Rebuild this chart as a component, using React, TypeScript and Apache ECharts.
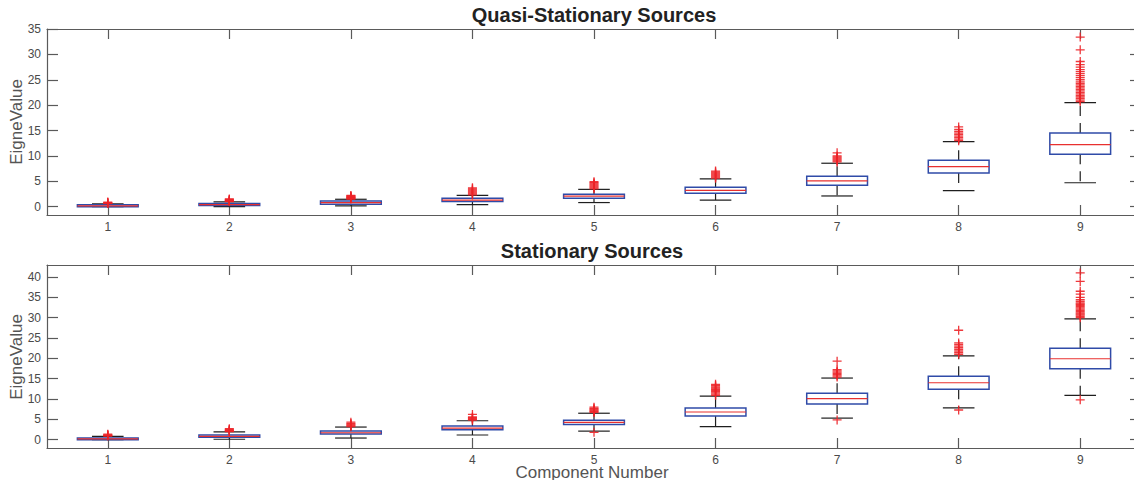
import React, { useEffect, useRef } from "react";
import * as echarts from "echarts";

const categories = [1, 2, 3, 4, 5, 6, 7, 8, 9];

// Quasi-Stationary Sources (top)
const quasiLo = [0.0, 0.0, 0.15, 0.4, 0.8, 1.3, 2.1, 3.15, 4.7];
const quasiQ1 = [0.0, 0.2, 0.45, 1.0, 1.65, 2.64, 4.2, 6.65, 10.3];
const quasiMed = [0.15, 0.4, 0.8, 1.3, 2.05, 3.2, 5.07, 7.9, 12.2];
const quasiQ3 = [0.35, 0.6, 1.1, 1.65, 2.45, 3.8, 6.0, 9.15, 14.5];
const quasiHi = [0.55, 0.95, 1.45, 2.2, 3.4, 5.45, 8.55, 12.8, 20.5];
const quasiOutliers = [
  [0.6, 0.65, 0.7, 0.8, 0.9],
  [1.0, 1.05, 1.1, 1.2, 1.3, 1.4, 1.5],
  [1.5, 1.6, 1.7, 1.8, 1.9, 2.0, 2.1, 2.2],
  [2.3, 2.5, 2.7, 2.9, 3.1, 3.3, 3.5, 3.7],
  [3.5, 3.7, 3.9, 4.1, 4.3, 4.5, 4.7, 4.9],
  [5.6, 5.8, 6.0, 6.2, 6.4, 6.6, 6.8, 7.0],
  [8.8, 9.0, 9.2, 9.4, 9.6, 9.8, 10.0, 10.6],
  [13.0, 13.3, 13.6, 13.9, 14.2, 14.5, 14.8, 15.2, 15.7],
  [20.7, 21.0, 21.3, 21.6, 21.9, 22.2, 22.5, 22.8, 23.1, 23.4, 23.7, 24.0, 24.3, 24.6, 25.0, 25.4, 25.8, 26.2, 26.6, 27.0, 27.5, 28.0, 28.6, 30.9, 33.4],
];

// Stationary Sources (bottom)
const statLo = [0.0, 0.1, 0.4, 1.15, 2.1, 3.2, 5.3, 7.8, 10.9];
const statQ1 = [0.0, 0.57, 1.4, 2.45, 3.7, 5.8, 8.8, 12.4, 17.45];
const statMed = [0.17, 0.82, 1.7, 2.85, 4.25, 6.8, 10.1, 14.0, 19.9];
const statQ3 = [0.4, 1.15, 2.1, 3.35, 4.8, 7.8, 11.4, 15.6, 22.45];
const statHi = [0.8, 1.9, 3.1, 4.65, 6.5, 10.7, 15.15, 20.6, 29.7];
const statOutliers = [
  [0.9, 1.0, 1.1, 1.2, 1.35],
  [2.0, 2.1, 2.2, 2.35, 2.5, 2.7],
  [3.2, 3.4, 3.6, 3.8, 4.0, 4.3],
  [4.8, 5.0, 5.2, 5.4, 5.6, 6.2],
  [1.8, 6.7, 6.9, 7.1, 7.3, 7.5, 7.7, 8.0],
  [10.9, 11.2, 11.5, 11.8, 12.1, 12.4, 12.7, 13.0, 13.3, 13.6],
  [4.85, 15.4, 15.7, 16.0, 16.3, 16.6, 16.9, 17.2, 19.3],
  [7.3, 21.0, 21.4, 21.8, 22.2, 22.6, 23.0, 23.4, 23.8, 26.9],
  [9.8, 30.0, 30.3, 30.6, 30.9, 31.2, 31.5, 31.8, 32.1, 32.4, 32.7, 33.0, 33.3, 33.6, 34.0, 34.4, 35.0, 35.8, 36.5, 38.9, 41.0],
];

const yTicksTop = [0, 5, 10, 15, 20, 25, 30, 35];
const yTicksBottom = [0, 5, 10, 15, 20, 25, 30, 35, 40];
const titleTop = "Quasi-Stationary Sources";
const titleBottom = "Stationary Sources";
const yName = "EigneValue";
const xName = "Component Number";

const FONT = "'Liberation Sans', Arial, Helvetica, sans-serif";
const AXIS_COLOR = "#5a5a5a";
const LABEL_COLOR = "#4a4a4a";

function boxData(lo: number[], q1: number[], med: number[], q3: number[], hi: number[]) {
  return categories.map((c, i) => [c, lo[i], q1[i], med[i], q3[i], hi[i]]);
}
function outlierData(out: number[][]) {
  const res: number[][] = [];
  out.forEach((arr, i) => arr.forEach((v) => res.push([categories[i], v])));
  return res;
}

const renderBox = (params: any, api: any) => {
  const x = api.value(0);
  const pLo = api.coord([x, api.value(1)]);
  const pQ1 = api.coord([x, api.value(2)]);
  const pMed = api.coord([x, api.value(3)]);
  const pQ3 = api.coord([x, api.value(4)]);
  const pHi = api.coord([x, api.value(5)]);
  const unit = api.size([1, 0])[0];
  const bw = unit * 0.25;
  const cw = unit * 0.13;
  const cx = pLo[0];
  const wStyle = { stroke: "#1e1e1e", lineWidth: 1.2, lineDash: [10, 7], fill: "none" };
  const cStyle = { stroke: "#1e1e1e", lineWidth: 1.2, fill: "none" };
  return {
    type: "group",
    children: [
      { type: "line", shape: { x1: cx, y1: pQ3[1], x2: cx, y2: pHi[1] }, style: wStyle },
      { type: "line", shape: { x1: cx, y1: pQ1[1], x2: cx, y2: pLo[1] }, style: wStyle },
      { type: "line", shape: { x1: cx - cw, y1: pHi[1], x2: cx + cw, y2: pHi[1] }, style: cStyle },
      { type: "line", shape: { x1: cx - cw, y1: pLo[1], x2: cx + cw, y2: pLo[1] }, style: cStyle },
      {
        type: "rect",
        shape: { x: cx - bw, y: pQ3[1], width: 2 * bw, height: Math.max(pQ1[1] - pQ3[1], 1) },
        style: { stroke: "#2f4ba8", lineWidth: 1.5, fill: "#ffffff" },
      },
      { type: "line", shape: { x1: cx - bw, y1: pMed[1], x2: cx + bw, y2: pMed[1] }, style: { stroke: "#e8302f", lineWidth: 1.2 } },
    ],
  };
};

const plusPath = "path://M0,5L10,5M5,0L5,10";

function xAxes(gridIndex: number) {
  const base = {
    type: "value",
    gridIndex,
    min: 0.5,
    max: 9.5,
    splitLine: { show: false },
    axisLine: { show: true, onZero: false, lineStyle: { color: AXIS_COLOR, width: 1.2 } },
    axisTick: { show: true, inside: true, length: 10, customValues: categories, lineStyle: { color: AXIS_COLOR, width: 1.2 } },
  };
  return [
    {
      ...base,
      position: "bottom",
      axisLabel: { show: true, customValues: categories, margin: 6, fontSize: 12, color: LABEL_COLOR, fontFamily: FONT },
    },
    { ...base, position: "top", axisLabel: { show: false } },
  ];
}

function yAxes(gridIndex: number, min: number, max: number, ticks: number[]) {
  const base = {
    type: "value",
    gridIndex,
    min,
    max,
    splitLine: { show: false },
    axisLine: { show: true, onZero: false, lineStyle: { color: AXIS_COLOR, width: 1.2 } },
    axisTick: { show: true, inside: true, length: 11, customValues: ticks, lineStyle: { color: AXIS_COLOR, width: 1.2 } },
  };
  return [
    {
      ...base,
      position: "left",
      axisLabel: { show: true, customValues: ticks, margin: 6, fontSize: 12, color: LABEL_COLOR, fontFamily: FONT },
    },
    { ...base, position: "right", axisLabel: { show: false } },
  ];
}

export default function App() {
  const ref = useRef<HTMLDivElement>(null);
  useEffect(() => {
    if (!ref.current) return;
    const chart = echarts.init(ref.current, undefined, { renderer: "svg" });
    const option: any = {
      animation: false,
      backgroundColor: "#ffffff",
      textStyle: { fontFamily: FONT },
      grid: [
        { left: 47, right: 1, top: 29, height: 186 },
        { left: 47, right: 1, top: 265, height: 183 },
      ],
      xAxis: [...xAxes(0), ...xAxes(1)],
      yAxis: [...yAxes(0, -1.65, 35, yTicksTop), ...yAxes(1, -2.05, 42.95, yTicksBottom)],
      series: [
        {
          type: "custom",
          xAxisIndex: 0,
          yAxisIndex: 0,
          renderItem: renderBox,
          encode: { x: 0, y: [1, 2, 3, 4, 5] },
          data: boxData(quasiLo, quasiQ1, quasiMed, quasiQ3, quasiHi),
        },
        {
          type: "scatter",
          xAxisIndex: 0,
          yAxisIndex: 0,
          symbol: plusPath,
          symbolSize: 9,
          itemStyle: { color: "none", borderColor: "#ec2227", borderWidth: 1.3, opacity: 0.9 },
          data: outlierData(quasiOutliers),
        },
        {
          type: "custom",
          xAxisIndex: 2,
          yAxisIndex: 2,
          renderItem: renderBox,
          encode: { x: 0, y: [1, 2, 3, 4, 5] },
          data: boxData(statLo, statQ1, statMed, statQ3, statHi),
        },
        {
          type: "scatter",
          xAxisIndex: 2,
          yAxisIndex: 2,
          symbol: plusPath,
          symbolSize: 9,
          itemStyle: { color: "none", borderColor: "#ec2227", borderWidth: 1.3, opacity: 0.9 },
          data: outlierData(statOutliers),
        },
      ],
      graphic: [
        {
          type: "text",
          x: 594,
          y: 15,
          style: { text: titleTop, font: `bold 20px ${FONT}`, fill: "#222222", textAlign: "center", textVerticalAlign: "middle" },
        },
        {
          type: "text",
          x: 592,
          y: 251,
          style: { text: titleBottom, font: `bold 20px ${FONT}`, fill: "#222222", textAlign: "center", textVerticalAlign: "middle" },
        },
        {
          type: "text",
          x: 592,
          y: 472,
          style: { text: xName, font: `17px ${FONT}`, fill: "#555555", textAlign: "center", textVerticalAlign: "middle" },
        },
        {
          type: "text",
          x: 16,
          y: 122,
          rotation: Math.PI / 2,
          style: { text: yName, font: `17px ${FONT}`, fill: "#555555", textAlign: "center", textVerticalAlign: "middle" },
        },
        {
          type: "text",
          x: 16,
          y: 357,
          rotation: Math.PI / 2,
          style: { text: yName, font: `17px ${FONT}`, fill: "#555555", textAlign: "center", textVerticalAlign: "middle" },
        },
      ],
    };
    chart.setOption(option);
    return () => chart.dispose();
  }, []);
  return (
    <div style={{ position: "fixed", left: 0, top: 0, width: 1134, height: 480, overflow: "hidden", background: "#fff" }}>
      <div ref={ref} style={{ width: 1142, height: 480 }} />
    </div>
  );
}
